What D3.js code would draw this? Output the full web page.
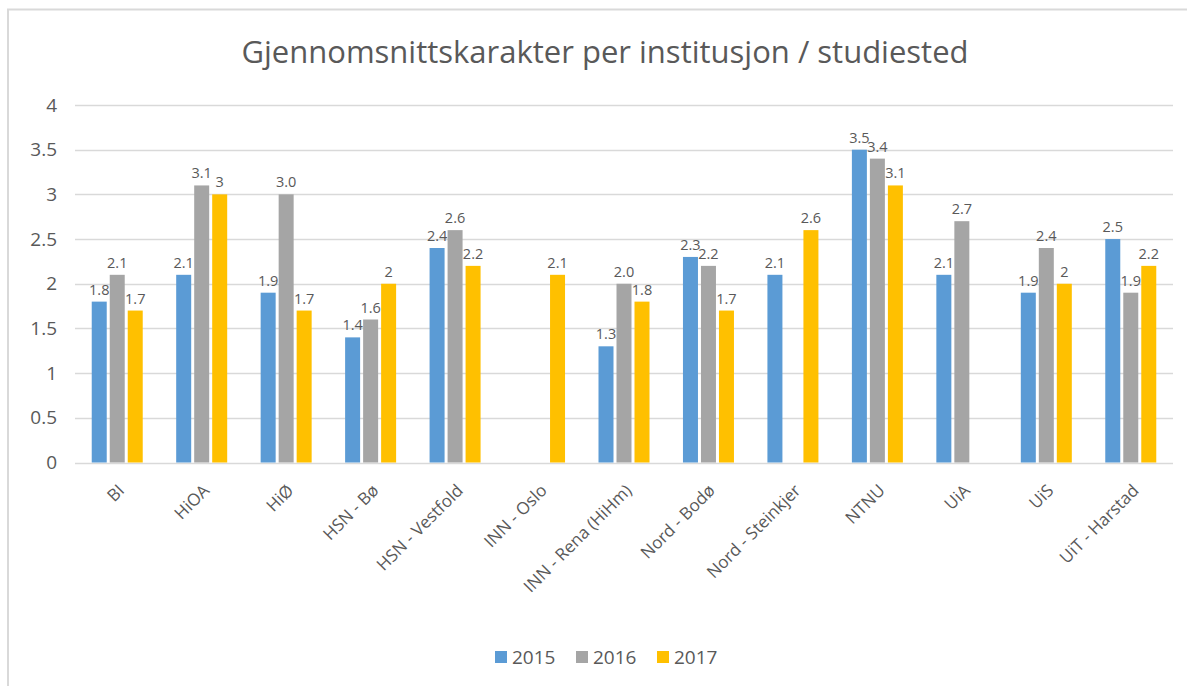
<!DOCTYPE html>
<html>
<head>
<meta charset="utf-8">
<script src="https://cdn.jsdelivr.net/npm/d3@7"></script>
<style>
  html, body { margin: 0; padding: 0; background: #fff; }
  #wrap { position: relative; width: 1187px; height: 686px; }
  svg { display: block; font-family: "Open Sans", "Noto Sans", sans-serif; }
  .xlab { position: absolute; white-space: nowrap; font-family: "Open Sans", sans-serif;
          font-size: 17px; color: #595959; line-height: 1; transform-origin: 100% 100%; }
</style>
</head>
<body>
<div id="wrap"><svg id="chart" width="1187" height="686"></svg></div>
<script>
const title = "Gjennomsnittskarakter per institusjon / studiested";
const categories = ["BI", "HiOA", "HiØ", "HSN - Bø", "HSN - Vestfold", "INN - Oslo",
  "INN - Rena (HiHm)", "Nord - Bodø", "Nord - Steinkjer", "NTNU", "UiA", "UiS", "UiT - Harstad"];
const seriesNames = ["2015", "2016", "2017"];
const values2015 = [1.8, 2.1, 1.9, 1.4, 2.4, null, 1.3, 2.3, 2.1, 3.5, 2.1, 1.9, 2.5];
const values2016 = [2.1, 3.1, 3.0, 1.6, 2.6, null, 2.0, 2.2, null, 3.4, 2.7, 2.4, 1.9];
const values2017 = [1.7, 3.0, 1.7, 2.0, 2.2, 2.1, 1.8, 1.7, 2.6, 3.1, null, 2.0, 2.2];
const labels2015 = ["1.8", "2.1", "1.9", "1.4", "2.4", "", "1.3", "2.3", "2.1", "3.5", "2.1", "1.9", "2.5"];
const labels2016 = ["2.1", "3.1", "3.0", "1.6", "2.6", "", "2.0", "2.2", "", "3.4", "2.7", "2.4", "1.9"];
const labels2017 = ["1.7", "3", "1.7", "2", "2.2", "2.1", "1.8", "1.7", "2.6", "3.1", "", "2", "2.2"];
const yTicks = [0, 0.5, 1, 1.5, 2, 2.5, 3, 3.5, 4];
const colors = ["#5B9BD5", "#A5A5A5", "#FFC000"];

const seriesValues = [values2015, values2016, values2017];
const seriesLabels = [labels2015, labels2016, labels2017];

const svg = d3.select("#chart");
const textColor = "#595959";

// outer chart frame
svg.append("rect")
  .attr("x", 8).attr("y", 9.5)
  .attr("width", 1300).attr("height", 800)
  .attr("fill", "#fff").attr("stroke", "#D9D9D9").attr("stroke-width", 2);

const plot = { left: 75, right: 1173, top: 105, bottom: 462.5 };

const x = d3.scaleBand().domain(categories).range([plot.left, plot.right]);
const y = d3.scaleLinear().domain([0, 4]).range([plot.bottom, plot.top]);
const barW = 15, barPitch = 18;
const xs = d3.scaleBand().domain(seriesNames).range([0, barPitch * 3]);

// title
svg.append("text")
  .attr("x", 605).attr("y", 63)
  .attr("text-anchor", "middle")
  .attr("font-size", 31).attr("fill", textColor)
  .text(title);

// gridlines
svg.append("g").selectAll("line").data(yTicks).join("line")
  .attr("x1", plot.left).attr("x2", plot.right)
  .attr("y1", d => Math.round(y(d)) + 0.5).attr("y2", d => Math.round(y(d)) + 0.5)
  .attr("stroke", "#D9D9D9").attr("stroke-width", 1.3);

// y axis labels
const yAxis = d3.axisLeft(y).tickValues(yTicks).tickSize(0).tickPadding(0)
  .tickFormat(d => String(d));
const yg = svg.append("g").attr("transform", `translate(57,0)`).call(yAxis);
yg.select(".domain").remove();
yg.selectAll("text").attr("font-size", 19).attr("fill", textColor)
  .attr("font-family", "\"Open Sans\", sans-serif");

// bars
const groups = svg.append("g").selectAll("g").data(categories).join("g")
  .attr("transform", d => `translate(${x(d) + x.bandwidth() / 2 - (barPitch * 3 - (barPitch - barW)) / 2},0)`);

seriesNames.forEach((s, si) => {
  groups.each(function(cat, ci) {
    const v = seriesValues[si][ci];
    if (v == null) return;
    const g = d3.select(this);
    g.append("rect")
      .attr("x", xs(s)).attr("width", barW)
      .attr("y", y(v)).attr("height", y(0) - y(v))
      .attr("fill", colors[si]);
    g.append("text")
      .attr("x", xs(s) + barW / 2).attr("y", y(v) - 7)
      .attr("text-anchor", "middle")
      .attr("font-size", 14.5).attr("fill", textColor)
      .text(seriesLabels[si][ci]);
  });
});

// x axis labels (HTML, rotated -45deg around their right-bottom corner)
const wrap = d3.select("#wrap");
wrap.selectAll("div.xlab").data(categories).join("div")
  .attr("class", "xlab")
  .text(d => d)
  .each(function(d) {
    const w = this.offsetWidth, h = this.offsetHeight;
    const ax = x(d) + x.bandwidth() / 2 + 10, ay = plot.bottom + 30;
    d3.select(this)
      .style("left", (ax - w) + "px")
      .style("top", (ay - h) + "px")
      .style("transform", "rotate(-45deg)");
  });

// legend
const legend = svg.append("g").attr("transform", "translate(495,651)");
const legItems = legend.selectAll("g").data(seriesNames).join("g")
  .attr("transform", (d, i) => `translate(${i * 81},0)`);
legItems.append("rect").attr("width", 12).attr("height", 12).attr("fill", (d, i) => colors[i]);
legItems.append("text").attr("x", 17).attr("y", 12.5)
  .attr("font-size", 19).attr("fill", textColor).text(d => d);
</script>
</body>
</html>
